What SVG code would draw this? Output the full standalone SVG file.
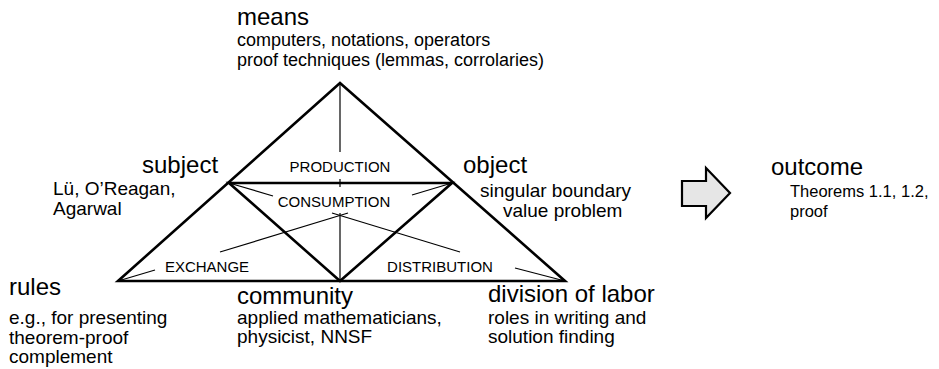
<svg xmlns="http://www.w3.org/2000/svg" width="939" height="369" viewBox="0 0 939 369">
<style>
text{font-family:"Liberation Sans",Arial,sans-serif;fill:#000}
.big{font-size:24px}
.sm{font-size:19px}
.msm{font-size:18px}
.cap{font-size:15px;text-anchor:middle}
.thick{fill:none;stroke:#000;stroke-width:2.6;stroke-linejoin:miter}
.thin{fill:none;stroke:#000;stroke-width:1.2}
</style>
<rect width="939" height="369" fill="#fff"/>
<g id="connectors">
<polygon class="thick" points="118,281 340,83 565,281"/>
<polygon class="thick" points="229,183 452,183 340,281"/>
<line class="thin" x1="340" y1="83" x2="340" y2="152"/>
<line class="thin" x1="340" y1="179" x2="340" y2="187"/>
<line class="thin" x1="340" y1="213" x2="340" y2="281"/>
<line class="thin" x1="229" y1="183" x2="273" y2="196"/>
<line class="thin" x1="452" y1="183" x2="412" y2="195"/>
<line class="thin" x1="220" y1="252" x2="348" y2="213"/>
<line class="thin" x1="332" y1="213" x2="460" y2="252"/>
<line class="thin" x1="118" y1="281" x2="155" y2="270"/>
<line class="thin" x1="565" y1="281" x2="515" y2="268"/>
<polygon points="682,181 706,181 706,168 730,193 706,218 706,206 682,206" fill="#e6e6e6" stroke="#000" stroke-width="2.2"/>
</g>
<g id="production"><text class="cap" x="340" y="172">PRODUCTION</text></g>
<g id="consumption"><text class="cap" x="334" y="207">CONSUMPTION</text></g>
<g id="exchange"><text class="cap" x="207" y="272">EXCHANGE</text></g>
<g id="distribution"><text class="cap" x="440" y="272">DISTRIBUTION</text></g>
<g id="means">
<text class="big" x="237" y="25">means</text>
<text class="msm" x="237" y="45.5">computers, notations, operators</text>
<text class="msm" x="237" y="66">proof techniques (lemmas, corrolaries)</text>
</g>
<g id="subject">
<text class="big" x="142" y="173">subject</text>
<text class="sm" x="53" y="195">Lü, O’Reagan,</text>
<text class="sm" x="53" y="215">Agarwal</text>
</g>
<g id="object">
<text class="big" x="463" y="173">object</text>
<text class="sm" x="480" y="197">singular boundary</text>
<text class="sm" x="503" y="217">value problem</text>
</g>
<g id="rules">
<text class="big" x="9" y="295">rules</text>
<text class="sm" x="9" y="324">e.g., for presenting</text>
<text class="sm" x="9" y="344">theorem-proof</text>
<text class="sm" x="9" y="363">complement</text>
</g>
<g id="community">
<text class="big" x="237" y="304">community</text>
<text class="sm" x="237" y="324">applied mathematicians,</text>
<text class="sm" x="237" y="343">physicist, NNSF</text>
</g>
<g id="division">
<text class="big" x="488" y="302">division of labor</text>
<text class="sm" x="488" y="324">roles in writing and</text>
<text class="sm" x="488" y="343">solution finding</text>
</g>
<g id="outcome">
<text class="big" x="771" y="175">outcome</text>
<text class="sm" x="790" y="197" style="font-size:16.5px">Theorems 1.1, 1.2,</text>
<text class="sm" x="790" y="217" style="font-size:16.5px">proof</text>
</g>
</svg>
